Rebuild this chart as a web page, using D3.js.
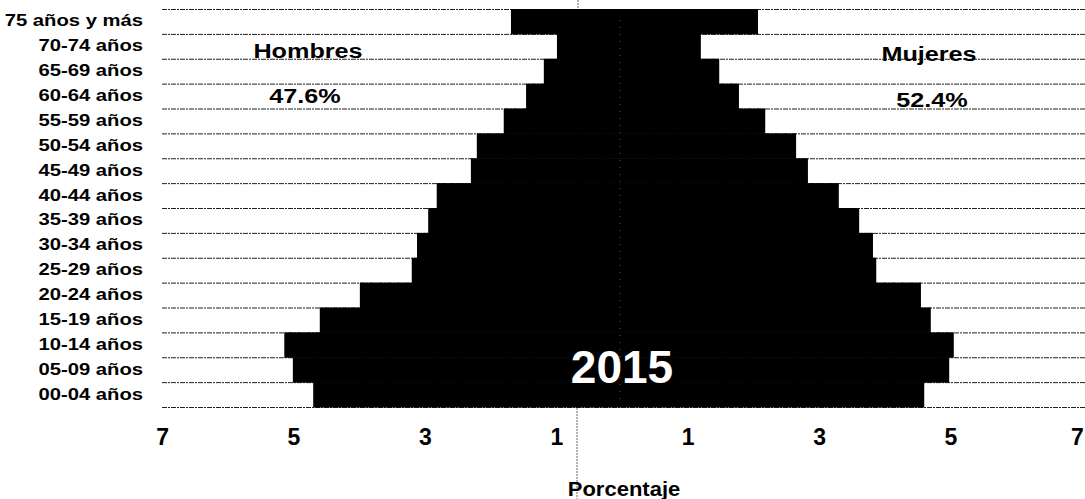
<!DOCTYPE html>
<html>
<head>
<meta charset="utf-8">
<script src="https://cdn.jsdelivr.net/npm/d3@7"></script>
<style>
  html, body { margin: 0; padding: 0; background: #fff; }
  svg { display: block; }
  text { font-family: "Liberation Sans", Arial, Helvetica, sans-serif; font-weight: bold; fill: #000; }
</style>
</head>
<body>
<svg id="chart" width="1085" height="499"></svg>
<script>
// ---- data ----
const categories = ["75 años y más","70-74 años","65-69 años","60-64 años","55-59 años","50-54 años",
  "45-49 años","40-44 años","35-39 años","30-34 años","25-29 años","20-24 años","15-19 años",
  "10-14 años","05-09 años","00-04 años"];
const hombres = [1.69,0.99,1.19,1.46,1.80,2.21,2.30,2.82,2.95,3.12,3.20,3.99,4.60,5.14,5.01,4.70];
const mujeres = [2.07,1.20,1.48,1.78,2.18,2.65,2.83,3.30,3.61,3.82,3.87,4.55,4.70,5.05,4.98,4.60];
const tickValues = [-7,-5,-3,-1,1,3,5,7];
const tickLabels = ["7","5","3","1","1","3","5","7"];
const labelHombres = "Hombres", pctHombres = "47.6%";
const labelMujeres = "Mujeres", pctMujeres = "52.4%";
const yearLabel = "2015";
const axisTitle = "Porcentaje";

// ---- layout ----
const svg = d3.select("#chart");
const center = 622, unit = 65.7;
const x = d3.scaleLinear().domain([-7.5, 7.5]).range([center - 7.5*unit, center + 7.5*unit]);
const y = d3.scaleBand().domain(categories).range([9, 407]).padding(0);

// gridlines at band boundaries
const bounds = categories.map(c => y(c)).concat([y.range()[1]]);
svg.append("g").selectAll("line").data(bounds).join("line")
  .attr("x1", 162).attr("x2", 1085)
  .attr("y1", d => d + 0.5).attr("y2", d => d + 0.5)
  .attr("stroke", "#222").attr("stroke-width", 1).attr("stroke-dasharray", "5,1,2,1");

// bars
const gb = svg.append("g");
gb.selectAll("rect.h").data(categories).join("rect").attr("class","h")
  .attr("x", (d,i) => x(-hombres[i])).attr("y", d => y(d))
  .attr("width", (d,i) => x(0) - x(-hombres[i])).attr("height", y.bandwidth() + 0.5)
  .attr("fill", "#000");
gb.selectAll("rect.m").data(categories).join("rect").attr("class","m")
  .attr("x", x(0)).attr("y", d => y(d))
  .attr("width", (d,i) => x(mujeres[i]) - x(0)).attr("height", y.bandwidth() + 0.5)
  .attr("fill", "#000");

// faint centre axis inside bars
svg.append("line").attr("x1", x(0) - 2).attr("x2", x(0) - 2).attr("y1", 20).attr("y2", 400)
  .attr("stroke", "#555").attr("stroke-width", 1).attr("stroke-dasharray", "1,6");

// outer dotted vertical line
svg.append("line").attr("x1", 578).attr("x2", 578).attr("y1", 0).attr("y2", 9)
  .attr("stroke", "#666").attr("stroke-width", 1).attr("stroke-dasharray", "2,1");
svg.append("line").attr("x1", 577).attr("x2", 577).attr("y1", 408).attr("y2", 499)
  .attr("stroke", "#666").attr("stroke-width", 1).attr("stroke-dasharray", "2,1");

// category labels
svg.append("g").selectAll("text").data(categories).join("text")
  .attr("transform", d => `translate(143,${y(d) + y.bandwidth()/2 + 5}) scale(1.19,1)`)
  .attr("text-anchor", "end").attr("font-size", 17).text(d => d);

// x axis tick labels
const axis = d3.axisBottom(x).tickValues(tickValues)
  .tickFormat((d,i) => tickLabels[i]).tickSize(0).tickPadding(0);
const ga = svg.append("g").attr("transform", "translate(0,445)").call(axis);
ga.select(".domain").remove();
ga.selectAll("text").attr("dy", 0).attr("font-size", 23)
  .attr("dx", d => d === 7 ? -5 : 0)
  .style("font-family", "'Liberation Sans', Arial, sans-serif").style("font-weight", "bold").attr("fill", "#000");

// axis title
svg.append("text").attr("transform", "translate(624,496) scale(1.1,1)")
  .attr("text-anchor", "middle").attr("font-size", 20).text(axisTitle);

// annotations
function ann(txt, cx, base, size, sx, fill) {
  svg.append("text").attr("transform", `translate(${cx},${base}) scale(${sx},1)`)
    .attr("text-anchor", "middle").attr("font-size", size).style("fill", fill || "#000").text(txt);
}
ann(labelHombres, 308, 58, 21, 1.2);
ann(pctHombres, 305, 103, 21, 1.2);
ann(labelMujeres, 929, 61, 21, 1.2);
ann(pctMujeres, 932, 107, 21, 1.2);
ann(yearLabel, 622, 383, 46, 1.0, "#fff");
</script>
</body>
</html>
